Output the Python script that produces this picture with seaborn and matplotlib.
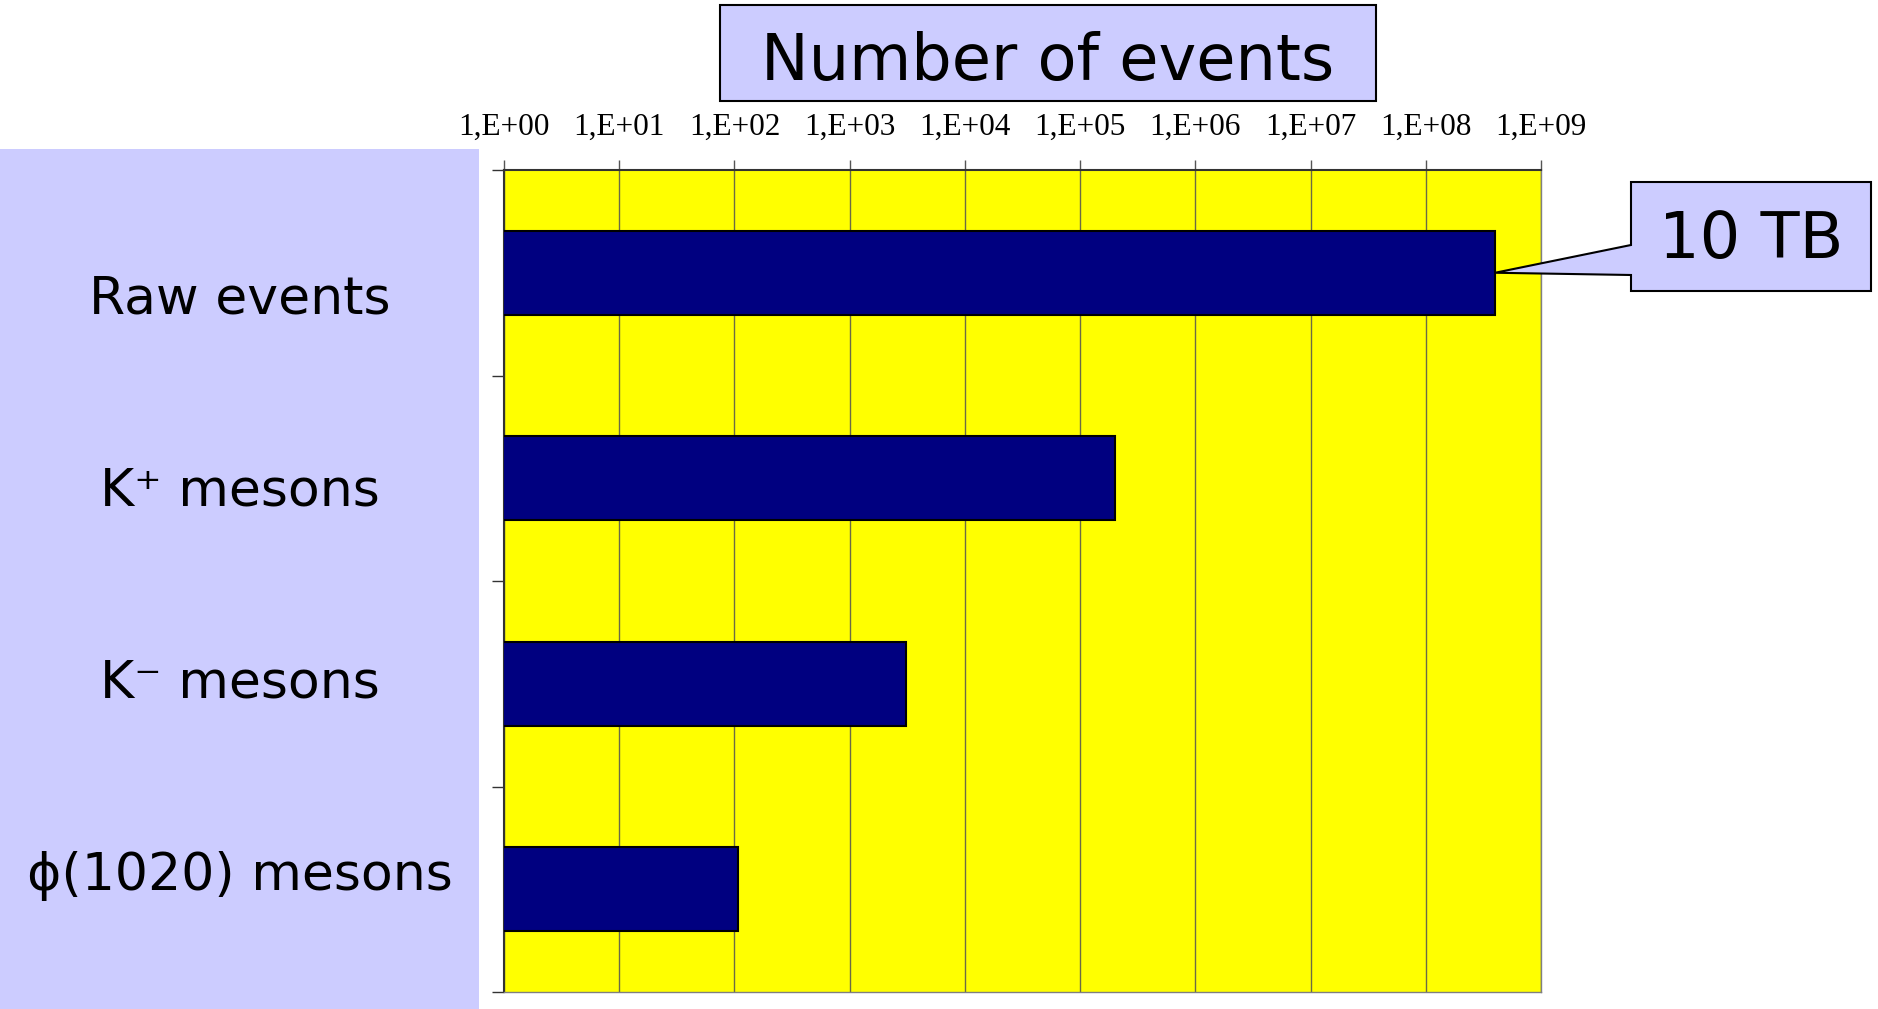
import matplotlib
matplotlib.use("Agg")
import matplotlib.pyplot as plt
import numpy as np
import pandas as pd
import seaborn as sns
from matplotlib.patches import Rectangle, Polygon
from matplotlib.ticker import FixedLocator, FixedFormatter, NullLocator

# ---- data -------------------------------------------------------------
categories = ["Raw events", "K⁺ mesons", "K⁻ mesons", "ϕ(1020) mesons"]
event_counts = [4.0e8, 2.0e5, 3.1e3, 1.07e2]
decade_exponents = [0, 1, 2, 3, 4, 5, 6, 7, 8, 9]
tick_labels = ["1,E+00", "1,E+01", "1,E+02", "1,E+03", "1,E+04",
               "1,E+05", "1,E+06", "1,E+07", "1,E+08", "1,E+09"]
axis_title = "Number of events"
callout_text = "10 TB"

# ---- style ------------------------------------------------------------
sns.set_theme(style="white")
plt.rcParams["font.family"] = ["DejaVu Sans"]

W, H = 1878, 1009
fig = plt.figure(figsize=(W / 100, H / 100), dpi=100)


def fx(x):
    return x / W


def fy(y):
    return 1 - y / H


LAVENDER = "#CCCCFF"

# lavender label panel on the left
fig.patches.append(Rectangle((0, 0), fx(479), fy(148.5), transform=fig.transFigure,
                             facecolor=LAVENDER, edgecolor="none", zorder=0))

# ---- bar chart --------------------------------------------------------
ax = fig.add_axes([fx(504), fy(992), (1541 - 504) / W, (992 - 170) / H])
ax.set_facecolor("#FFFF00")

df = pd.DataFrame({"category": categories, "events": event_counts})
sns.barplot(data=df, x="events", y="category", orient="h", color="#000080",
            saturation=1, width=0.41, edgecolor="black", linewidth=1.5,
            ax=ax, zorder=3)

# bars start at 0, which the log axis clips to its left edge
ax.set_xscale("log")
ax.set_xlim(10.0 ** decade_exponents[0], 10.0 ** decade_exponents[-1])
ax.set_ylim(len(categories) - 0.5, -0.5)
ax.set_xlabel("")
ax.set_ylabel("")

ax.xaxis.tick_top()
ax.xaxis.set_major_locator(FixedLocator(10.0 ** np.array(decade_exponents)))
ax.xaxis.set_major_formatter(FixedFormatter(tick_labels))
ax.xaxis.set_minor_locator(NullLocator())
ax.tick_params(axis="x", which="major", top=True, bottom=False, direction="out",
               length=7.2, width=1, color="#555555", pad=13, labelsize=22.5,
               labelcolor="black", labelfontfamily="Liberation Serif")

ax.set_yticks(np.arange(len(categories) + 1) - 0.5)
ax.set_yticklabels([])
ax.tick_params(axis="y", left=True, direction="out", length=9, width=1, color="#333333")

ax.grid(axis="x", color="#6b6b45", linewidth=1)
ax.grid(axis="y", visible=False)
ax.set_axisbelow(True)

for side, col, lw in [("left", "#333333", 1.5), ("top", "#333333", 1.5),
                      ("right", "#808080", 1.0), ("bottom", "#808080", 1.0)]:
    ax.spines[side].set_visible(True)
    ax.spines[side].set_color(col)
    ax.spines[side].set_linewidth(lw)

# category labels in the left panel
label_baselines = [314, 506, 698, 890]
for label, yb in zip(categories, label_baselines):
    fig.text(fx(240), fy(yb), label, ha="center", va="baseline", fontsize=37.5,
             color="black")

# ---- title box --------------------------------------------------------
fig.patches.append(Rectangle((fx(720), fy(100.6)), (1376 - 720) / W, (100.6 - 5) / H,
                             transform=fig.transFigure, facecolor=LAVENDER,
                             edgecolor="black", linewidth=1.5, zorder=2))
fig.text(fx(1048), fy(80), axis_title, ha="center", va="baseline", fontsize=46,
         color="black", zorder=3)

# ---- callout pointing at the end of the first bar ----------------------
tip_disp = ax.transData.transform((event_counts[0], 0))
tip = fig.transFigure.inverted().transform(tip_disp)
callout_pts = [
    (fx(1631), fy(182)), (fx(1871), fy(182)), (fx(1871), fy(291)),
    (fx(1631), fy(291)), (fx(1631), fy(275)), (tip[0], tip[1]),
    (fx(1631), fy(245)),
]
fig.patches.append(Polygon(callout_pts, closed=True, transform=fig.transFigure,
                           facecolor=LAVENDER, edgecolor="black", linewidth=1.5,
                           zorder=5))
fig.text(fx(1751), fy(257.5), callout_text, ha="center", va="baseline", fontsize=46,
         color="black", zorder=6)

fig.savefig("out.png", dpi=100)
